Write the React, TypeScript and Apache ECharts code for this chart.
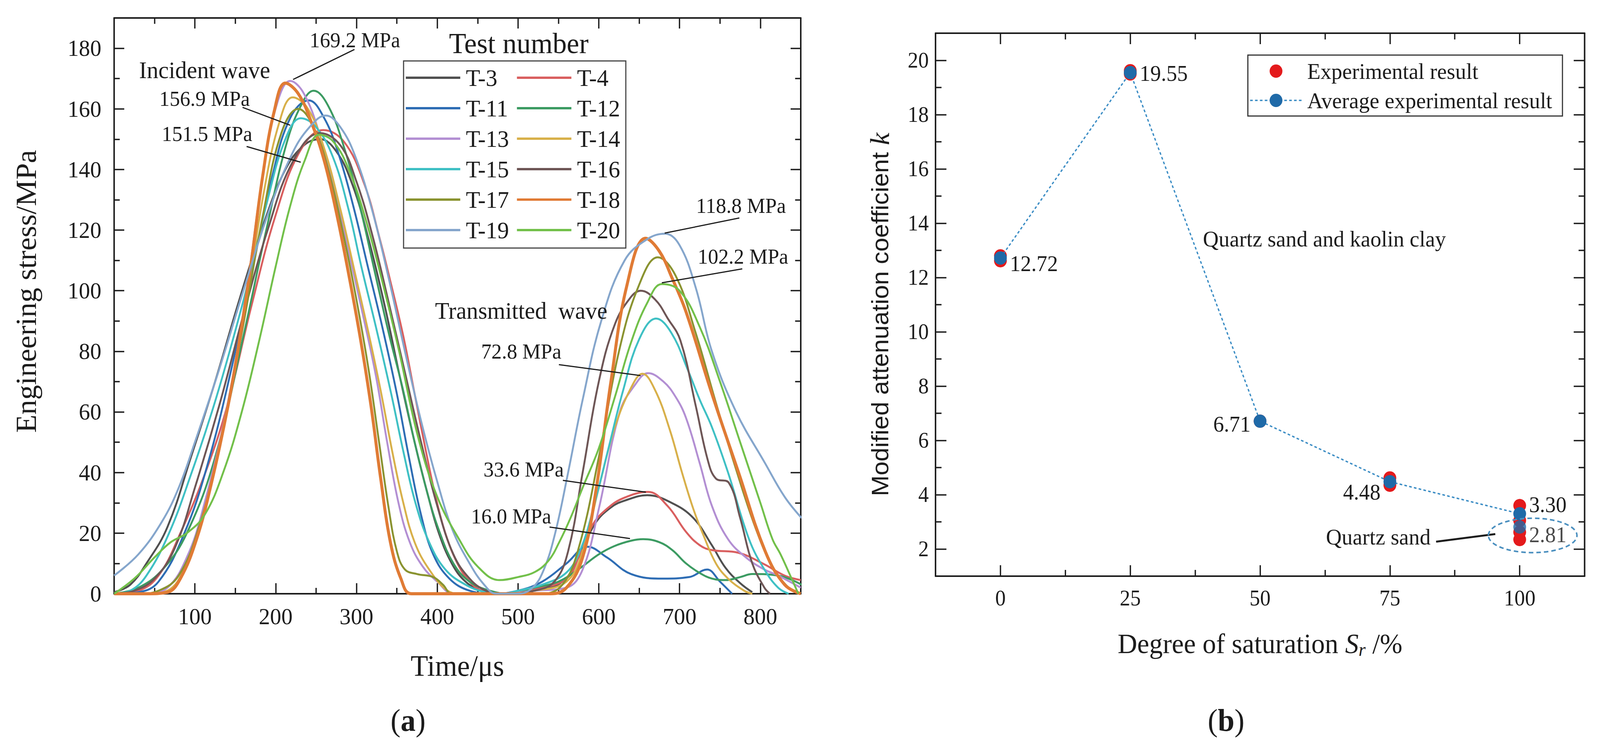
import { useEffect, useRef } from 'react';
import * as echarts from 'echarts';

const W = 4262;
const H = 1897;
const SERIF = '"Liberation Serif", "Times New Roman", serif';
const SANS = '"Liberation Sans", Arial, sans-serif';
const INK = '#1c1c1c';

// ---- panel (a): stress waves ----
const timeMajor = [100, 200, 300, 400, 500, 600, 700, 800];
const timeMinor = [50, 150, 250, 350, 450, 550, 650, 750];
const stressLabels = [0, 20, 40, 60, 80, 100, 120, 140, 160, 180];
const stressMajor = [20, 40, 60, 80, 100, 120, 140, 160, 180];
const stressMinor = [10, 30, 50, 70, 90, 110, 130, 150, 170];

const testNames = ['T-3', 'T-4', 'T-11', 'T-12', 'T-13', 'T-14', 'T-15', 'T-16', 'T-17', 'T-18', 'T-19', 'T-20'];
const testColors = ['#505050', '#d95f5f', '#2e6db4', '#3c9b62', '#b38fd3', '#d8b04a', '#3fc0c4', '#6e5656', '#8a9330', '#e07b35', '#85a6cc', '#72c04a'];

const t3 = [[0, 0.5], [20, 3], [40, 10], [66, 22], [95, 45], [125, 70], [155, 97], [185, 122], [212, 140], [235, 148], [255, 150], [275, 146], [295, 135], [315, 117], [335, 95], [355, 70], [372, 50], [388, 33], [402, 20], [418, 10], [435, 4], [455, 1], [480, 0], [520, 1], [555, 4], [575, 12], [595, 23], [615, 28.5], [635, 31], [660, 32.5], [690, 30], [717, 25], [740, 16], [757, 8.5], [775, 3.5], [790, 0.5]];
const t4 = [[0, 0], [30, 1], [55, 6], [82, 20], [113, 40], [140, 62], [170, 95], [200, 125], [230, 146], [259, 153], [285, 149], [310, 135], [328, 118], [343, 102], [358, 85], [372, 66], [386, 47], [398, 32], [410, 20], [425, 10], [440, 4], [455, 1], [480, 0], [520, 1.5], [560, 5], [578, 14], [593, 23], [610, 28], [630, 31.5], [661, 33.6], [685, 29], [708, 20.4], [725, 16], [740, 14.4], [773, 13.5], [805, 9.7], [830, 6], [850, 4.5]];
const t11 = [[0, 0], [30, 0.5], [55, 4], [87, 20], [115, 42], [145, 74], [172, 108], [196, 138], [218, 157], [241, 162.8], [260, 157], [278, 145], [296, 128], [314, 108], [332, 88], [350, 66], [365, 45], [380, 26], [395, 13], [415, 5], [440, 1], [470, 0], [500, 1], [530, 4], [560, 10], [586, 15.5], [610, 12], [640, 6.5], [680, 5], [712, 5.5], [734, 8], [750, 4], [765, 0]];
const t12 = [[0, 0], [30, 2], [60, 8], [90, 20], [125, 45], [160, 85], [190, 122], [215, 150], [235, 163], [247, 166], [265, 161], [285, 147], [305, 127], [322, 107], [340, 86], [357, 68], [372, 50], [388, 33], [402, 21], [420, 10], [440, 4], [465, 1], [490, 0], [520, 2], [550, 4], [577, 8.5], [600, 13], [619, 15.7], [640, 17.5], [655, 18], [675, 17], [691, 14.4], [708, 10], [724, 7], [740, 5], [757, 4.5], [775, 5.5], [790, 6.5], [822, 6], [851, 3]];
const t13 = [[0, 0], [40, 0], [66, 2], [90, 12], [110, 28], [140, 62], [165, 102], [185, 140], [202, 162], [218, 169.2], [235, 165], [255, 151], [275, 131], [292, 111], [308, 92], [324, 72], [338, 50], [352, 30], [366, 17], [382, 9], [400, 4], [420, 0], [480, 0], [520, 1], [560, 2], [580, 8], [600, 28], [626, 60], [645, 69], [661, 72.8], [680, 70], [695, 65], [708, 58], [725, 43], [740, 29], [760, 18], [783, 11.8], [805, 8], [822, 6], [850, 2]];
const t14 = [[0, 0], [40, 0], [66, 1], [90, 10], [110, 25], [140, 60], [165, 98], [185, 132], [205, 156], [221, 163.8], [240, 160], [260, 147], [280, 127], [298, 106], [315, 86], [330, 67], [345, 46], [358, 30], [372, 17], [390, 8], [413, 1], [430, 0], [480, 0], [520, 1], [560, 4], [580, 14], [600, 35], [620, 55], [640, 68], [654, 72.6], [670, 67], [688, 54], [703, 40], [717, 28], [730, 19], [745, 10], [760, 5], [780, 1], [790, 0]];
const t15 = [[0, 0], [20, 1], [40, 6], [68, 20], [96, 40], [121, 60], [143, 80], [168, 105], [190, 130], [212, 150], [231, 156.9], [250, 154], [271, 144], [290, 127], [306, 108], [325, 87], [343, 66], [358, 47], [373, 30], [390, 17], [410, 8], [435, 3], [460, 0.5], [480, 0], [500, 1], [530, 3], [560, 7], [578, 15], [595, 30], [612, 48], [630, 67], [650, 84], [671, 90.8], [690, 86], [710, 74], [725, 64], [740, 55], [760, 40], [786, 18], [805, 8], [822, 2], [835, 0]];
const t16 = [[0, 0], [25, 1], [50, 5], [75, 15], [100, 35], [130, 62], [160, 92], [190, 120], [222, 143], [255, 152], [280, 148], [300, 136], [320, 118], [340, 96], [360, 73], [380, 50], [400, 29], [420, 13], [440, 5], [460, 1], [480, 0], [520, 1], [545, 4], [562, 14], [580, 40], [600, 70], [620, 89], [640, 98], [652, 100], [670, 97], [685, 91], [701, 83.6], [720, 62], [735, 44], [745, 38], [761, 36.6], [775, 25], [790, 10], [805, 2], [812, 0]];
const t17 = [[0, 0], [30, 0], [55, 1], [80, 6], [105, 22], [130, 48], [158, 86], [185, 126], [207, 152], [228, 160], [247, 154], [266, 139], [285, 117], [300, 97], [315, 74], [328, 50], [340, 28], [350, 14], [360, 8], [375, 6.5], [395, 5.5], [407, 3], [418, 0], [480, 0], [530, 0], [555, 3], [575, 15], [600, 45], [625, 80], [650, 102], [673, 111], [695, 105], [720, 86], [745, 63], [770, 41], [795, 21], [815, 9], [835, 2], [850, 0]];
const t18 = [[0, 0], [40, 0], [66, 0.5], [82, 5], [102, 18], [120, 36], [141, 62], [156, 85], [170, 110], [184, 138], [198, 159], [212, 168.5], [228, 165], [245, 155], [260, 143], [275, 126], [290, 106], [305, 84], [318, 62], [330, 38], [342, 17], [355, 5], [368, 0], [540, 0], [560, 2], [580, 12], [597, 35], [615, 70], [635, 102], [658, 117.3], [675, 113], [691, 104], [708, 93], [740, 66], [773, 40], [806, 14], [830, 3], [850, 0]];
const t19 = [[0, 6], [30, 13], [59, 23.7], [80, 35], [100, 50], [130, 74], [160, 100], [190, 125], [220, 145], [242, 154], [262, 157.8], [280, 154], [299, 144], [320, 126], [340, 104], [360, 80], [380, 57], [400, 37], [419, 21], [440, 10], [458, 3], [473, 0], [500, 0], [518, 2], [532, 8], [546, 20], [562, 40], [580, 64], [603, 90], [632, 110], [660, 117], [682, 118.8], [700, 115], [720, 101], [740, 80], [770, 60], [806, 43], [830, 32], [851, 25]];
const t20 = [[0, 0], [25, 5], [50, 12], [70, 17], [90, 20], [112, 26], [135, 40], [158, 60], [180, 84], [200, 108], [218, 128], [236, 143], [254, 151.5], [272, 149], [292, 139], [312, 123], [332, 103], [352, 81], [376, 52], [400, 32], [427, 18], [450, 9], [477, 4.5], [500, 5.5], [521, 7.2], [538, 11], [551, 17], [565, 25], [580, 35], [600, 48], [620, 65], [640, 83], [660, 96], [678, 102.2], [700, 100], [725, 88], [750, 70], [775, 50], [800, 30], [815, 18], [825, 13], [837, 6], [847, 0]];
const testData = [t3, t4, t11, t12, t13, t14, t15, t16, t17, t18, t19, t20];

// ---- panel (b): attenuation coefficient ----
const satMajor = [0, 25, 50, 75, 100];
const satMinor = [12.5, 37.5, 62.5, 87.5];
const kMajor = [2, 4, 6, 8, 10, 12, 14, 16, 18, 20];
const kMinor = [3, 5, 7, 9, 11, 13, 15, 17, 19];
const experimental = [[0, 12.62], [0, 12.8], [25, 19.62], [25, 19.5], [50, 6.71], [75, 4.62], [75, 4.35], [100, 3.6], [100, 3.05], [100, 2.62], [100, 2.35]];
const average = [[0, 12.72], [25, 19.55], [50, 6.71], [75, 4.48], [100, 3.3]];
const averageSand = [[100, 2.81]];
const avgLabelPos = ['right', 'right', 'left', 'left', 'right'];
const avgLabelDy = [14, 2, 7, 26, -24];

function frameAxis(o: any) {
  return {
    type: 'value',
    gridIndex: o.grid,
    position: o.pos,
    min: o.min,
    max: o.max,
    axisLine: { show: o.line, onZero: false, lineStyle: { color: INK, width: 4 } },
    axisTick: { show: true, inside: true, length: o.len, customValues: o.ticks, lineStyle: { color: INK, width: 3.5 } },
    axisLabel: o.labels
      ? { show: true, customValues: o.labels, fontFamily: SERIF, fontSize: o.labelSize, color: INK, margin: o.margin }
      : { show: false },
    splitLine: { show: false },
    minorTick: { show: false },
    ...(o.extra || {}),
  };
}

const notesA = [
  { text: 'Incident wave', at: [112, 172.8], size: 62 },
  { text: '169.2 MPa', at: [298, 182.7], size: 55, from: [297.5, 179.6], to: [221.5, 169.7] },
  { text: '156.9 MPa', at: [112, 163.3], size: 55, from: [159, 160.5], to: [218, 154.6] },
  { text: '151.5 MPa', at: [115, 151.8], size: 55, from: [164, 147.6], to: [231, 142.4] },
  { text: 'Test number', at: [501, 181.7], size: 75 },
  { text: '118.8 MPa', at: [776, 128], size: 55, from: [774, 124], to: [681.6, 119] },
  { text: '102.2 MPa', at: [778.5, 111.3], size: 55, from: [777.6, 107.2], to: [678, 102.6] },
  { text: 'Transmitted  wave', at: [504, 93.5], size: 62 },
  { text: '72.8 MPa', at: [504, 80], size: 55, from: [550.6, 75.6], to: [651.7, 72] },
  { text: '33.6 MPa', at: [507, 41], size: 55, from: [555.5, 37.4], to: [658.3, 33.5] },
  { text: '16.0 MPa', at: [491.5, 25.6], size: 55, from: [539, 22], to: [638.6, 18.2] },
];

export default function App() {
  const ref = useRef<HTMLDivElement>(null);
  const vw = typeof window !== 'undefined' && window.innerWidth ? window.innerWidth : W;
  const vh = typeof window !== 'undefined' && window.innerHeight ? window.innerHeight : H;
  const sx = vw / W;
  const sy = vh / H;

  useEffect(() => {
    if (!ref.current) return;
    const chart = echarts.init(ref.current, null, { renderer: 'svg', width: W, height: H });

    const lineSeries = testNames.map((name, i) => ({
      type: 'line',
      name,
      xAxisIndex: 0,
      yAxisIndex: 0,
      data: testData[i],
      symbol: 'none',
      showSymbol: false,
      smooth: 0.4,
      lineStyle: { color: testColors[i], width: name === 'T-18' ? 8 : 5 },
      itemStyle: { color: testColors[i] },
      emphasis: { disabled: true },
      silent: true,
    }));

    const legendText = { fontFamily: SERIF, fontSize: 62, color: INK, lineHeight: 64, padding: [0, 0, 0, 10] };

    const option: any = {
      animation: false,
      backgroundColor: '#ffffff',
      textStyle: { fontFamily: SERIF },
      grid: [
        { left: 304, top: 46, width: 1829, height: 1474, outerBoundsMode: 'none' },
        { left: 2492, top: 85, width: 1729, height: 1390, outerBoundsMode: 'none' },
      ],
      xAxis: [
        frameAxis({ grid: 0, pos: 'bottom', min: 0, max: 850, ticks: timeMajor, len: 27, line: true, labels: timeMajor, labelSize: 60, margin: 28,
          extra: { name: 'Time/μs', nameLocation: 'middle', nameGap: 146, nameMoveOverlap: false, nameTextStyle: { fontFamily: SERIF, fontSize: 76, color: INK } } }),
        frameAxis({ grid: 0, pos: 'bottom', min: 0, max: 850, ticks: timeMinor, len: 15, line: false }),
        frameAxis({ grid: 0, pos: 'top', min: 0, max: 850, ticks: timeMajor, len: 27, line: true }),
        frameAxis({ grid: 0, pos: 'top', min: 0, max: 850, ticks: timeMinor, len: 15, line: false }),
        frameAxis({ grid: 1, pos: 'bottom', min: -12.5, max: 112.5, ticks: satMajor, len: 28, line: true, labels: satMajor, labelSize: 56, margin: 28,
          extra: {
            name: '{a|Degree of saturation }{s|S}{r|r}{a| /%}',
            nameLocation: 'middle', nameGap: 134, nameMoveOverlap: false,
            nameTextStyle: {
              color: INK,
              rich: {
                a: { fontFamily: SERIF, fontSize: 72, color: INK },
                s: { fontFamily: SERIF, fontSize: 72, fontStyle: 'italic', color: INK },
                r: { fontFamily: SERIF, fontSize: 48, fontStyle: 'italic', color: INK, padding: [30, 0, 0, 0] },
              },
            },
          } }),
        frameAxis({ grid: 1, pos: 'bottom', min: -12.5, max: 112.5, ticks: satMinor, len: 16, line: false }),
        frameAxis({ grid: 1, pos: 'top', min: -12.5, max: 112.5, ticks: satMajor, len: 28, line: true }),
        frameAxis({ grid: 1, pos: 'top', min: -12.5, max: 112.5, ticks: satMinor, len: 16, line: false }),
      ],
      yAxis: [
        frameAxis({ grid: 0, pos: 'left', min: 0, max: 190, ticks: stressMajor, len: 27, line: true, labels: stressLabels, labelSize: 60, margin: 34,
          extra: { name: 'Engineering stress/MPa', nameLocation: 'middle', nameGap: 196, nameMoveOverlap: false,
            nameTextStyle: { fontFamily: SERIF, fontSize: 76, color: INK, padding: [0, 0, 0, 74] } } }),
        frameAxis({ grid: 0, pos: 'left', min: 0, max: 190, ticks: stressMinor, len: 15, line: false }),
        frameAxis({ grid: 0, pos: 'right', min: 0, max: 190, ticks: stressMajor, len: 27, line: true }),
        frameAxis({ grid: 0, pos: 'right', min: 0, max: 190, ticks: stressMinor, len: 15, line: false }),
        frameAxis({ grid: 1, pos: 'left', min: 1, max: 21, ticks: kMajor, len: 29, line: true, labels: kMajor, labelSize: 56, margin: 18,
          extra: {
            name: '{a|Modified attenuation coefficient }{k|k}',
            nameLocation: 'middle', nameGap: 112, nameMoveOverlap: false,
            nameTextStyle: {
              color: INK,
              padding: [0, 50, 0, 0],
              rich: {
                a: { fontFamily: SANS, fontSize: 64, color: INK },
                k: { fontFamily: SERIF, fontSize: 72, fontStyle: 'italic', color: INK },
              },
            },
          } }),
        frameAxis({ grid: 1, pos: 'left', min: 1, max: 21, ticks: kMinor, len: 16, line: false }),
        frameAxis({ grid: 1, pos: 'right', min: 1, max: 21, ticks: kMajor, len: 29, line: true }),
        frameAxis({ grid: 1, pos: 'right', min: 1, max: 21, ticks: kMinor, len: 16, line: false }),
      ],
      legend: [
        {
          data: ['T-3', 'T-11', 'T-13', 'T-15', 'T-17', 'T-19'],
          orient: 'vertical', left: 1081, top: 167, padding: 0,
          icon: 'rect', itemWidth: 145, itemHeight: 6, itemGap: 14,
          selectedMode: false, textStyle: legendText,
        },
        {
          data: ['T-4', 'T-12', 'T-14', 'T-16', 'T-18', 'T-20'],
          orient: 'vertical', left: 1377, top: 167, padding: 0,
          icon: 'rect', itemWidth: 145, itemHeight: 6, itemGap: 14,
          selectedMode: false, textStyle: legendText,
        },
      ],
      series: [
        ...lineSeries,
        {
          type: 'scatter',
          name: 'Experimental result',
          xAxisIndex: 4,
          yAxisIndex: 4,
          data: experimental,
          symbol: 'circle',
          symbolSize: 34,
          itemStyle: { color: '#e41a1c', opacity: 1 },
          silent: true,
          z: 2,
        },
        {
          type: 'line',
          name: 'Average experimental result',
          xAxisIndex: 4,
          yAxisIndex: 4,
          data: average.map((p, i) => ({
            value: p,
            label: { position: avgLabelPos[i], offset: [0, avgLabelDy[i]] },
          })),
          symbol: 'circle',
          symbolSize: 34,
          showSymbol: true,
          itemStyle: { color: '#1f6aa8' },
          lineStyle: { color: '#3a8cc4', width: 3.5, type: [7, 6] },
          label: {
            show: true,
            distance: 8,
            fontFamily: SERIF,
            fontSize: 57,
            color: INK,
            formatter: (p: any) => Number(p.value[1]).toFixed(2),
          },
          silent: true,
          z: 3,
        },
        {
          type: 'scatter',
          name: 'Average quartz sand',
          xAxisIndex: 4,
          yAxisIndex: 4,
          data: averageSand,
          symbol: 'circle',
          symbolSize: 34,
          itemStyle: { color: '#1f6aa8' },
          label: {
            show: true,
            position: 'right',
            offset: [0, 19],
            distance: 8,
            fontFamily: SERIF,
            fontSize: 57,
            color: INK,
            formatter: (p: any) => Number(p.value[1]).toFixed(2),
          },
          silent: true,
          z: 3,
        },
      ],
    };

    chart.setOption(option);

    const pa = (p: number[]) => chart.convertToPixel({ seriesIndex: 0 }, p) as number[];
    const pb = (p: number[]) => chart.convertToPixel({ seriesIndex: 12 }, p) as number[];
    const txt = (text: string, x: number, y: number, size: number, align = 'center', family = SERIF) => ({
      type: 'text',
      x,
      y,
      z: 100,
      style: {
        text, fontFamily: family, fontSize: size, fill: INK,
        align, verticalAlign: 'middle', textAlign: align, textVerticalAlign: 'middle',
      },
    });
    const seg = (a: number[], b: number[], w = 3) => ({
      type: 'line',
      z: 100,
      shape: { x1: a[0], y1: a[1], x2: b[0], y2: b[1] },
      style: { stroke: INK, lineWidth: w },
    });

    const graphics: any[] = [];
    notesA.forEach((n) => {
      const c = pa(n.at);
      graphics.push(txt(n.text, c[0], c[1], n.size));
      if (n.from && n.to) graphics.push(seg(pa(n.from), pa(n.to)));
    });
    // legend frame (a)
    graphics.push({ type: 'rect', z: 90, shape: { x: 1075, y: 156, width: 592, height: 479 }, style: { fill: 'none', stroke: '#444', lineWidth: 3 } });

    // panel (b) notes
    const qk = pb([39, 13.43]);
    graphics.push(txt('Quartz sand and kaolin clay', qk[0], qk[1], 58, 'left'));
    const qs = pb([62.7, 2.45]);
    graphics.push(txt('Quartz sand', qs[0], qs[1], 58, 'left'));
    graphics.push(seg(pb([83.9, 2.27]), pb([95.3, 2.55]), 5));
    const el = pb([102.5, 2.5]);
    graphics.push({
      type: 'ellipse', z: 100,
      shape: { cx: el[0], cy: el[1], rx: 118, ry: 44 },
      style: { fill: 'none', stroke: '#4a8fbf', lineWidth: 4, lineDash: [12, 8] },
    });

    // legend (b)
    graphics.push({ type: 'rect', z: 90, shape: { x: 3324, y: 141, width: 838, height: 156 }, style: { fill: '#fff', stroke: '#333', lineWidth: 3 } });
    graphics.push({ type: 'circle', z: 100, shape: { cx: 3399, cy: 182, r: 17 }, style: { fill: '#e41a1c' } });
    graphics.push(txt('Experimental result', 3482, 182, 58, 'left'));
    graphics.push({ type: 'line', z: 100, shape: { x1: 3330, y1: 257, x2: 3469, y2: 257 }, style: { stroke: '#3a8cc4', lineWidth: 3.5, lineDash: [7, 6] } });
    graphics.push({ type: 'circle', z: 101, shape: { cx: 3399, cy: 257, r: 17 }, style: { fill: '#1f6aa8' } });
    graphics.push(txt('Average experimental result', 3482, 257, 58, 'left'));

    // panel captions
    const cap = (letter: string, x: number) => ({
      type: 'text', x, y: 1844, z: 100,
      style: {
        text: '({b|' + letter + '})', fontFamily: SERIF, fontSize: 80, fill: INK,
        align: 'center', verticalAlign: 'middle', textAlign: 'center', textVerticalAlign: 'middle',
        rich: { b: { fontFamily: SERIF, fontSize: 80, fontWeight: 'bold', fill: INK } },
      },
    });
    graphics.push(cap('a', 1087), cap('b', 3266));

    chart.setOption({ graphic: graphics });

    return () => {
      chart.dispose();
    };
  }, []);

  return (
    <div style={{ position: 'fixed', left: 0, top: 0, width: '100vw', height: '100vh', overflow: 'hidden', background: '#fff' }}>
      <div
        ref={ref}
        style={{ width: W, height: H, transform: `scale(${sx}, ${sy})`, transformOrigin: '0 0' }}
      />
    </div>
  );
}
